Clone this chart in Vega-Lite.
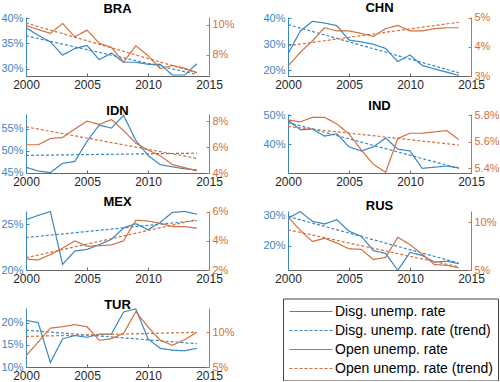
{
"$schema":"https://vega.github.io/schema/vega-lite/v6.json",
"padding":{"left":0,"top":2,"right":0,"bottom":0},
"datasets":{"d":[
{"c":"BRA","yr":2000,"s":"D","v":38.1},{"c":"BRA","yr":2001,"s":"D","v":36.6},{"c":"BRA","yr":2002,"s":"D","v":35.3},{"c":"BRA","yr":2003,"s":"D","v":32.7},{"c":"BRA","yr":2004,"s":"D","v":34.0},{"c":"BRA","yr":2005,"s":"D","v":34.6},{"c":"BRA","yr":2006,"s":"D","v":31.8},{"c":"BRA","yr":2007,"s":"D","v":33.1},{"c":"BRA","yr":2008,"s":"D","v":31.3},{"c":"BRA","yr":2009,"s":"D","v":31.3},{"c":"BRA","yr":2010,"s":"D","v":30.9},{"c":"BRA","yr":2011,"s":"D","v":30.9},{"c":"BRA","yr":2012,"s":"D","v":28.8},{"c":"BRA","yr":2013,"s":"D","v":28.8},{"c":"BRA","yr":2014,"s":"D","v":31.0},
{"c":"BRA","yr":2000,"s":"O","v":9.93},{"c":"BRA","yr":2001,"s":"O","v":9.67},{"c":"BRA","yr":2002,"s":"O","v":9.41},{"c":"BRA","yr":2003,"s":"O","v":10.07},{"c":"BRA","yr":2004,"s":"O","v":9.17},{"c":"BRA","yr":2005,"s":"O","v":9.63},{"c":"BRA","yr":2006,"s":"O","v":8.76},{"c":"BRA","yr":2007,"s":"O","v":8.48},{"c":"BRA","yr":2008,"s":"O","v":7.5},{"c":"BRA","yr":2009,"s":"O","v":8.59},{"c":"BRA","yr":2010,"s":"O","v":7.93},{"c":"BRA","yr":2011,"s":"O","v":7.07},{"c":"BRA","yr":2012,"s":"O","v":7.28},{"c":"BRA","yr":2013,"s":"O","v":7.1},{"c":"BRA","yr":2014,"s":"O","v":6.8},
{"c":"BRA","yr":2000,"s":"DT","v":36.5},{"c":"BRA","yr":2014,"s":"DT","v":28.9},{"c":"BRA","yr":2000,"s":"OT","v":10.1},{"c":"BRA","yr":2014,"s":"OT","v":6.8},
{"c":"CHN","yr":2000,"s":"D","v":26.3},{"c":"CHN","yr":2001,"s":"D","v":35.0},{"c":"CHN","yr":2002,"s":"D","v":38.75},{"c":"CHN","yr":2003,"s":"D","v":38.1},{"c":"CHN","yr":2004,"s":"D","v":37.1},{"c":"CHN","yr":2005,"s":"D","v":31.6},{"c":"CHN","yr":2006,"s":"D","v":30.9},{"c":"CHN","yr":2007,"s":"D","v":30.0},{"c":"CHN","yr":2008,"s":"D","v":28.4},{"c":"CHN","yr":2009,"s":"D","v":23.4},{"c":"CHN","yr":2010,"s":"D","v":25.9},{"c":"CHN","yr":2011,"s":"D","v":21.9},{"c":"CHN","yr":2012,"s":"D","v":20.6},{"c":"CHN","yr":2013,"s":"D","v":19.4},{"c":"CHN","yr":2014,"s":"D","v":18.1},
{"c":"CHN","yr":2000,"s":"O","v":3.34},{"c":"CHN","yr":2001,"s":"O","v":3.81},{"c":"CHN","yr":2002,"s":"O","v":4.21},{"c":"CHN","yr":2003,"s":"O","v":4.66},{"c":"CHN","yr":2004,"s":"O","v":4.55},{"c":"CHN","yr":2005,"s":"O","v":4.55},{"c":"CHN","yr":2006,"s":"O","v":4.47},{"c":"CHN","yr":2007,"s":"O","v":4.36},{"c":"CHN","yr":2008,"s":"O","v":4.63},{"c":"CHN","yr":2009,"s":"O","v":4.74},{"c":"CHN","yr":2010,"s":"O","v":4.55},{"c":"CHN","yr":2011,"s":"O","v":4.55},{"c":"CHN","yr":2012,"s":"O","v":4.63},{"c":"CHN","yr":2013,"s":"O","v":4.66},{"c":"CHN","yr":2014,"s":"O","v":4.66},
{"c":"CHN","yr":2000,"s":"DT","v":37.5},{"c":"CHN","yr":2014,"s":"DT","v":19.1},{"c":"CHN","yr":2000,"s":"OT","v":4.04},{"c":"CHN","yr":2014,"s":"OT","v":4.85},
{"c":"IDN","yr":2000,"s":"D","v":46.2},{"c":"IDN","yr":2001,"s":"D","v":45.35},{"c":"IDN","yr":2002,"s":"D","v":45.0},{"c":"IDN","yr":2003,"s":"D","v":47.1},{"c":"IDN","yr":2004,"s":"D","v":47.5},{"c":"IDN","yr":2005,"s":"D","v":52.1},{"c":"IDN","yr":2006,"s":"D","v":55.8},{"c":"IDN","yr":2007,"s":"D","v":55.1},{"c":"IDN","yr":2008,"s":"D","v":58.0},{"c":"IDN","yr":2009,"s":"D","v":52.3},{"c":"IDN","yr":2010,"s":"D","v":48.9},{"c":"IDN","yr":2011,"s":"D","v":46.8},{"c":"IDN","yr":2012,"s":"D","v":46.3},{"c":"IDN","yr":2013,"s":"D","v":45.85},{"c":"IDN","yr":2014,"s":"D","v":45.6},
{"c":"IDN","yr":2000,"s":"O","v":6.18},{"c":"IDN","yr":2001,"s":"O","v":6.18},{"c":"IDN","yr":2002,"s":"O","v":6.66},{"c":"IDN","yr":2003,"s":"O","v":6.74},{"c":"IDN","yr":2004,"s":"O","v":7.39},{"c":"IDN","yr":2005,"s":"O","v":8.0},{"c":"IDN","yr":2006,"s":"O","v":7.75},{"c":"IDN","yr":2007,"s":"O","v":8.12},{"c":"IDN","yr":2008,"s":"O","v":7.27},{"c":"IDN","yr":2009,"s":"O","v":6.3},{"c":"IDN","yr":2010,"s":"O","v":5.77},{"c":"IDN","yr":2011,"s":"O","v":5.33},{"c":"IDN","yr":2012,"s":"O","v":4.65},{"c":"IDN","yr":2013,"s":"O","v":4.41},{"c":"IDN","yr":2014,"s":"O","v":4.17},
{"c":"IDN","yr":2000,"s":"DT","v":48.9},{"c":"IDN","yr":2014,"s":"DT","v":49.4},{"c":"IDN","yr":2000,"s":"OT","v":7.56},{"c":"IDN","yr":2014,"s":"OT","v":5.13},
{"c":"IND","yr":2000,"s":"D","v":48.3},{"c":"IND","yr":2001,"s":"D","v":45.0},{"c":"IND","yr":2002,"s":"D","v":45.2},{"c":"IND","yr":2003,"s":"D","v":42.8},{"c":"IND","yr":2004,"s":"D","v":43.6},{"c":"IND","yr":2005,"s":"D","v":39.1},{"c":"IND","yr":2006,"s":"D","v":37.7},{"c":"IND","yr":2007,"s":"D","v":39.1},{"c":"IND","yr":2008,"s":"D","v":42.1},{"c":"IND","yr":2009,"s":"D","v":38.3},{"c":"IND","yr":2010,"s":"D","v":37.7},{"c":"IND","yr":2011,"s":"D","v":31.7},{"c":"IND","yr":2012,"s":"D","v":32.1},{"c":"IND","yr":2013,"s":"D","v":32.5},{"c":"IND","yr":2014,"s":"D","v":31.9},
{"c":"IND","yr":2000,"s":"O","v":5.765},{"c":"IND","yr":2001,"s":"O","v":5.75},{"c":"IND","yr":2002,"s":"O","v":5.785},{"c":"IND","yr":2003,"s":"O","v":5.785},{"c":"IND","yr":2004,"s":"O","v":5.735},{"c":"IND","yr":2005,"s":"O","v":5.66},{"c":"IND","yr":2006,"s":"O","v":5.54},{"c":"IND","yr":2007,"s":"O","v":5.43},{"c":"IND","yr":2008,"s":"O","v":5.37},{"c":"IND","yr":2009,"s":"O","v":5.625},{"c":"IND","yr":2010,"s":"O","v":5.665},{"c":"IND","yr":2011,"s":"O","v":5.665},{"c":"IND","yr":2012,"s":"O","v":5.675},{"c":"IND","yr":2013,"s":"O","v":5.685},{"c":"IND","yr":2014,"s":"O","v":5.617},
{"c":"IND","yr":2000,"s":"DT","v":47.5},{"c":"IND","yr":2014,"s":"DT","v":31.7},{"c":"IND","yr":2000,"s":"OT","v":5.716},{"c":"IND","yr":2014,"s":"OT","v":5.576},
{"c":"MEX","yr":2000,"s":"D","v":25.5},{"c":"MEX","yr":2001,"s":"D","v":25.97},{"c":"MEX","yr":2002,"s":"D","v":26.4},{"c":"MEX","yr":2003,"s":"D","v":20.6},{"c":"MEX","yr":2004,"s":"D","v":22.07},{"c":"MEX","yr":2005,"s":"D","v":22.25},{"c":"MEX","yr":2006,"s":"D","v":22.77},{"c":"MEX","yr":2007,"s":"D","v":23.35},{"c":"MEX","yr":2008,"s":"D","v":24.6},{"c":"MEX","yr":2009,"s":"D","v":25.07},{"c":"MEX","yr":2010,"s":"D","v":24.4},{"c":"MEX","yr":2011,"s":"D","v":25.2},{"c":"MEX","yr":2012,"s":"D","v":26.3},{"c":"MEX","yr":2013,"s":"D","v":26.4},{"c":"MEX","yr":2014,"s":"D","v":26.1},
{"c":"MEX","yr":2000,"s":"O","v":2.75},{"c":"MEX","yr":2001,"s":"O","v":2.69},{"c":"MEX","yr":2002,"s":"O","v":3.06},{"c":"MEX","yr":2003,"s":"O","v":3.5},{"c":"MEX","yr":2004,"s":"O","v":4.0},{"c":"MEX","yr":2005,"s":"O","v":3.63},{"c":"MEX","yr":2006,"s":"O","v":3.67},{"c":"MEX","yr":2007,"s":"O","v":3.72},{"c":"MEX","yr":2008,"s":"O","v":4.0},{"c":"MEX","yr":2009,"s":"O","v":5.42},{"c":"MEX","yr":2010,"s":"O","v":5.36},{"c":"MEX","yr":2011,"s":"O","v":5.2},{"c":"MEX","yr":2012,"s":"O","v":4.98},{"c":"MEX","yr":2013,"s":"O","v":4.98},{"c":"MEX","yr":2014,"s":"O","v":4.87},
{"c":"MEX","yr":2000,"s":"DT","v":23.55},{"c":"MEX","yr":2014,"s":"DT","v":25.4},{"c":"MEX","yr":2000,"s":"OT","v":2.84},{"c":"MEX","yr":2014,"s":"OT","v":5.46},
{"c":"RUS","yr":2000,"s":"D","v":29.1},{"c":"RUS","yr":2001,"s":"D","v":31.3},{"c":"RUS","yr":2002,"s":"D","v":28.1},{"c":"RUS","yr":2003,"s":"D","v":27.2},{"c":"RUS","yr":2004,"s":"D","v":28.6},{"c":"RUS","yr":2005,"s":"D","v":24.8},{"c":"RUS","yr":2006,"s":"D","v":23.2},{"c":"RUS","yr":2007,"s":"D","v":18.4},{"c":"RUS","yr":2008,"s":"D","v":17.5},{"c":"RUS","yr":2009,"s":"D","v":11.9},{"c":"RUS","yr":2010,"s":"D","v":17.8},{"c":"RUS","yr":2011,"s":"D","v":16.8},{"c":"RUS","yr":2012,"s":"D","v":14.6},{"c":"RUS","yr":2013,"s":"D","v":14.9},{"c":"RUS","yr":2014,"s":"D","v":14.1},
{"c":"RUS","yr":2000,"s":"O","v":10.57},{"c":"RUS","yr":2001,"s":"O","v":9.17},{"c":"RUS","yr":2002,"s":"O","v":8.0},{"c":"RUS","yr":2003,"s":"O","v":8.33},{"c":"RUS","yr":2004,"s":"O","v":7.83},{"c":"RUS","yr":2005,"s":"O","v":7.23},{"c":"RUS","yr":2006,"s":"O","v":7.17},{"c":"RUS","yr":2007,"s":"O","v":6.1},{"c":"RUS","yr":2008,"s":"O","v":6.33},{"c":"RUS","yr":2009,"s":"O","v":8.43},{"c":"RUS","yr":2010,"s":"O","v":7.67},{"c":"RUS","yr":2011,"s":"O","v":6.67},{"c":"RUS","yr":2012,"s":"O","v":5.57},{"c":"RUS","yr":2013,"s":"O","v":5.5},{"c":"RUS","yr":2014,"s":"O","v":5.23},
{"c":"RUS","yr":2000,"s":"DT","v":29.7},{"c":"RUS","yr":2014,"s":"DT","v":14.3},{"c":"RUS","yr":2000,"s":"OT","v":9.23},{"c":"RUS","yr":2014,"s":"OT","v":5.33},
{"c":"TUR","yr":2000,"s":"D","v":20.5},{"c":"TUR","yr":2001,"s":"D","v":20.0},{"c":"TUR","yr":2002,"s":"D","v":11.0},{"c":"TUR","yr":2003,"s":"D","v":16.35},{"c":"TUR","yr":2004,"s":"D","v":17.1},{"c":"TUR","yr":2005,"s":"D","v":16.7},{"c":"TUR","yr":2006,"s":"D","v":17.4},{"c":"TUR","yr":2007,"s":"D","v":17.4},{"c":"TUR","yr":2008,"s":"D","v":22.4},{"c":"TUR","yr":2009,"s":"D","v":23.1},{"c":"TUR","yr":2010,"s":"D","v":16.35},{"c":"TUR","yr":2011,"s":"D","v":14.2},{"c":"TUR","yr":2012,"s":"D","v":13.8},{"c":"TUR","yr":2013,"s":"D","v":13.65},{"c":"TUR","yr":2014,"s":"D","v":14.2},
{"c":"TUR","yr":2000,"s":"O","v":6.6},{"c":"TUR","yr":2001,"s":"O","v":8.6},{"c":"TUR","yr":2002,"s":"O","v":10.6},{"c":"TUR","yr":2003,"s":"O","v":10.8},{"c":"TUR","yr":2004,"s":"O","v":11.1},{"c":"TUR","yr":2005,"s":"O","v":10.8},{"c":"TUR","yr":2006,"s":"O","v":8.84},{"c":"TUR","yr":2007,"s":"O","v":9.07},{"c":"TUR","yr":2008,"s":"O","v":9.87},{"c":"TUR","yr":2009,"s":"O","v":12.95},{"c":"TUR","yr":2010,"s":"O","v":10.8},{"c":"TUR","yr":2011,"s":"O","v":8.84},{"c":"TUR","yr":2012,"s":"O","v":8.14},{"c":"TUR","yr":2013,"s":"O","v":8.93},{"c":"TUR","yr":2014,"s":"O","v":10.0},
{"c":"TUR","yr":2000,"s":"DT","v":18.3},{"c":"TUR","yr":2014,"s":"DT","v":15.25},{"c":"TUR","yr":2000,"s":"OT","v":9.4},{"c":"TUR","yr":2014,"s":"OT","v":10.0}
]},
"data":{"name":"d"},
"columns":2,
"bounds":"flush",
"spacing":{"row":38,"column":79},
"concat":[
{"title":"BRA","width":183,"height":59,"transform":[{"filter":"datum.c=='BRA'"}],"resolve":{"scale":{"y":"independent"}},"layer":[
{"transform":[{"filter":"indexof(datum.s,'D')==0"}],"mark":{"type":"line","clip":true},"encoding":{"x":{"field":"yr","type":"quantitative","scale":{"domain":[2000,2015],"nice":false,"zero":false},"axis":{"values":[2000,2005,2010,2015],"format":"d"}},"y":{"field":"v","type":"quantitative","scale":{"domain":[28.6,40.2],"nice":false,"zero":false},"axis":{"orient":"left","values":[30,35,40],"labelExpr":"datum.value+'%'","domainColor":"#3a87c0","labelColor":"#3a87c0","tickColor":"#3a87c0"}},"color":{"field":"s","type":"nominal","scale":{"domain":["D","DT","O","OT"],"range":["#3a87c0","#3a87c0","#d2703c","#d2703c"]},"legend":{"labelExpr":"datum.label=='D'?'Disg. unemp. rate':datum.label=='DT'?'Disg. unemp. rate (trend)':datum.label=='O'?'Open unemp. rate':'Open unemp. rate (trend)'"}},"strokeDash":{"field":"s","type":"nominal","scale":{"domain":["D","DT","O","OT"],"range":[[1,0],[3,2],[1,0],[3,2]]},"legend":{"labelExpr":"datum.label=='D'?'Disg. unemp. rate':datum.label=='DT'?'Disg. unemp. rate (trend)':datum.label=='O'?'Open unemp. rate':'Open unemp. rate (trend)'"}}}},
{"transform":[{"filter":"indexof(datum.s,'O')==0"}],"mark":{"type":"line","clip":true},"encoding":{"x":{"field":"yr","type":"quantitative","scale":{"domain":[2000,2015],"nice":false,"zero":false}},"y":{"field":"v","type":"quantitative","scale":{"domain":[6.58,10.5],"nice":false,"zero":false},"axis":{"orient":"right","values":[8,10],"labelExpr":"datum.value+'%'","domainColor":"#d2703c","labelColor":"#d2703c","tickColor":"#d2703c"}},"color":{"field":"s","type":"nominal"},"strokeDash":{"field":"s","type":"nominal"}}}]},
{"title":"CHN","width":183,"height":59,"transform":[{"filter":"datum.c=='CHN'"}],"resolve":{"scale":{"y":"independent"}},"layer":[
{"transform":[{"filter":"indexof(datum.s,'D')==0"}],"mark":{"type":"line","clip":true},"encoding":{"x":{"field":"yr","type":"quantitative","scale":{"domain":[2000,2015],"nice":false,"zero":false},"axis":{"values":[2000,2005,2010,2015],"format":"d"}},"y":{"field":"v","type":"quantitative","scale":{"domain":[17.9,40.4],"nice":false,"zero":false},"axis":{"orient":"left","values":[20,30,40],"labelExpr":"datum.value+'%'","domainColor":"#3a87c0","labelColor":"#3a87c0","tickColor":"#3a87c0"}},"color":{"field":"s","type":"nominal"},"strokeDash":{"field":"s","type":"nominal"}}},
{"transform":[{"filter":"indexof(datum.s,'O')==0"}],"mark":{"type":"line","clip":true},"encoding":{"x":{"field":"yr","type":"quantitative","scale":{"domain":[2000,2015],"nice":false,"zero":false}},"y":{"field":"v","type":"quantitative","scale":{"domain":[3,5.03],"nice":false,"zero":false},"axis":{"orient":"right","values":[3,4,5],"labelExpr":"datum.value+'%'","domainColor":"#d2703c","labelColor":"#d2703c","tickColor":"#d2703c"}},"color":{"field":"s","type":"nominal"},"strokeDash":{"field":"s","type":"nominal"}}}]},
{"title":"IDN","width":183,"height":59,"transform":[{"filter":"datum.c=='IDN'"}],"resolve":{"scale":{"y":"independent"}},"layer":[
{"transform":[{"filter":"indexof(datum.s,'D')==0"}],"mark":{"type":"line","clip":true},"encoding":{"x":{"field":"yr","type":"quantitative","scale":{"domain":[2000,2015],"nice":false,"zero":false},"axis":{"values":[2000,2005,2010,2015],"format":"d"}},"y":{"field":"v","type":"quantitative","scale":{"domain":[44.9,58.3],"nice":false,"zero":false},"axis":{"orient":"left","values":[45,50,55],"labelExpr":"datum.value+'%'","domainColor":"#3a87c0","labelColor":"#3a87c0","tickColor":"#3a87c0"}},"color":{"field":"s","type":"nominal"},"strokeDash":{"field":"s","type":"nominal"}}},
{"transform":[{"filter":"indexof(datum.s,'O')==0"}],"mark":{"type":"line","clip":true},"encoding":{"x":{"field":"yr","type":"quantitative","scale":{"domain":[2000,2015],"nice":false,"zero":false}},"y":{"field":"v","type":"quantitative","scale":{"domain":[4.0,8.55],"nice":false,"zero":false},"axis":{"orient":"right","values":[4,6,8],"labelExpr":"datum.value+'%'","domainColor":"#d2703c","labelColor":"#d2703c","tickColor":"#d2703c"}},"color":{"field":"s","type":"nominal"},"strokeDash":{"field":"s","type":"nominal"}}}]},
{"title":"IND","width":183,"height":59,"transform":[{"filter":"datum.c=='IND'"}],"resolve":{"scale":{"y":"independent"}},"layer":[
{"transform":[{"filter":"indexof(datum.s,'D')==0"}],"mark":{"type":"line","clip":true},"encoding":{"x":{"field":"yr","type":"quantitative","scale":{"domain":[2000,2015],"nice":false,"zero":false},"axis":{"values":[2000,2005,2010,2015],"format":"d"}},"y":{"field":"v","type":"quantitative","scale":{"domain":[30.1,50.4],"nice":false,"zero":false},"axis":{"orient":"left","values":[30,40,50],"labelExpr":"datum.value+'%'","domainColor":"#3a87c0","labelColor":"#3a87c0","tickColor":"#3a87c0"}},"color":{"field":"s","type":"nominal"},"strokeDash":{"field":"s","type":"nominal"}}},
{"transform":[{"filter":"indexof(datum.s,'O')==0"}],"mark":{"type":"line","clip":true},"encoding":{"x":{"field":"yr","type":"quantitative","scale":{"domain":[2000,2015],"nice":false,"zero":false}},"y":{"field":"v","type":"quantitative","scale":{"domain":[5.365,5.81],"nice":false,"zero":false},"axis":{"orient":"right","values":[5.4,5.6,5.8],"labelExpr":"format(datum.value,'.1f')+'%'","domainColor":"#d2703c","labelColor":"#d2703c","tickColor":"#d2703c"}},"color":{"field":"s","type":"nominal"},"strokeDash":{"field":"s","type":"nominal"}}}]},
{"title":"MEX","width":183,"height":59,"transform":[{"filter":"datum.c=='MEX'"}],"resolve":{"scale":{"y":"independent"}},"layer":[
{"transform":[{"filter":"indexof(datum.s,'D')==0"}],"mark":{"type":"line","clip":true},"encoding":{"x":{"field":"yr","type":"quantitative","scale":{"domain":[2000,2015],"nice":false,"zero":false},"axis":{"values":[2000,2005,2010,2015],"format":"d"}},"y":{"field":"v","type":"quantitative","scale":{"domain":[20,26.45],"nice":false,"zero":false},"axis":{"orient":"left","values":[20,25],"labelExpr":"datum.value+'%'","domainColor":"#3a87c0","labelColor":"#3a87c0","tickColor":"#3a87c0"}},"color":{"field":"s","type":"nominal"},"strokeDash":{"field":"s","type":"nominal"}}},
{"transform":[{"filter":"indexof(datum.s,'O')==0"}],"mark":{"type":"line","clip":true},"encoding":{"x":{"field":"yr","type":"quantitative","scale":{"domain":[2000,2015],"nice":false,"zero":false}},"y":{"field":"v","type":"quantitative","scale":{"domain":[2,6.05],"nice":false,"zero":false},"axis":{"orient":"right","values":[2,4,6],"labelExpr":"datum.value+'%'","domainColor":"#d2703c","labelColor":"#d2703c","tickColor":"#d2703c"}},"color":{"field":"s","type":"nominal"},"strokeDash":{"field":"s","type":"nominal"}}}]},
{"title":"RUS","width":183,"height":59,"transform":[{"filter":"datum.c=='RUS'"}],"resolve":{"scale":{"y":"independent"}},"layer":[
{"transform":[{"filter":"indexof(datum.s,'D')==0"}],"mark":{"type":"line","clip":true},"encoding":{"x":{"field":"yr","type":"quantitative","scale":{"domain":[2000,2015],"nice":false,"zero":false},"axis":{"values":[2000,2005,2010,2015],"format":"d"}},"y":{"field":"v","type":"quantitative","scale":{"domain":[12,31.5],"nice":false,"zero":false},"axis":{"orient":"left","values":[20,30],"labelExpr":"datum.value+'%'","domainColor":"#3a87c0","labelColor":"#3a87c0","tickColor":"#3a87c0"}},"color":{"field":"s","type":"nominal"},"strokeDash":{"field":"s","type":"nominal"}}},
{"transform":[{"filter":"indexof(datum.s,'O')==0"}],"mark":{"type":"line","clip":true},"encoding":{"x":{"field":"yr","type":"quantitative","scale":{"domain":[2000,2015],"nice":false,"zero":false}},"y":{"field":"v","type":"quantitative","scale":{"domain":[5,11.2],"nice":false,"zero":false},"axis":{"orient":"right","values":[5,10],"labelExpr":"datum.value+'%'","domainColor":"#d2703c","labelColor":"#d2703c","tickColor":"#d2703c"}},"color":{"field":"s","type":"nominal"},"strokeDash":{"field":"s","type":"nominal"}}}]},
{"title":"TUR","width":183,"height":59,"transform":[{"filter":"datum.c=='TUR'"}],"resolve":{"scale":{"y":"independent"}},"layer":[
{"transform":[{"filter":"indexof(datum.s,'D')==0"}],"mark":{"type":"line","clip":true},"encoding":{"x":{"field":"yr","type":"quantitative","scale":{"domain":[2000,2015],"nice":false,"zero":false},"axis":{"values":[2000,2005,2010,2015],"format":"d"}},"y":{"field":"v","type":"quantitative","scale":{"domain":[10,23.3],"nice":false,"zero":false},"axis":{"orient":"left","values":[10,15,20],"labelExpr":"datum.value+'%'","domainColor":"#3a87c0","labelColor":"#3a87c0","tickColor":"#3a87c0"}},"color":{"field":"s","type":"nominal"},"strokeDash":{"field":"s","type":"nominal"}}},
{"transform":[{"filter":"indexof(datum.s,'O')==0"}],"mark":{"type":"line","clip":true},"encoding":{"x":{"field":"yr","type":"quantitative","scale":{"domain":[2000,2015],"nice":false,"zero":false}},"y":{"field":"v","type":"quantitative","scale":{"domain":[5,13.5],"nice":false,"zero":false},"axis":{"orient":"right","values":[5,10],"labelExpr":"datum.value+'%'","domainColor":"#d2703c","labelColor":"#d2703c","tickColor":"#d2703c"}},"color":{"field":"s","type":"nominal"},"strokeDash":{"field":"s","type":"nominal"}}}]}
],
"resolve":{"scale":{"x":"independent","y":"independent","color":"shared","strokeDash":"shared"},"legend":{"color":"shared","strokeDash":"shared"}},
"config":{
"font":"Liberation Sans",
"view":{"stroke":null},
"title":{"fontSize":13,"fontWeight":"bold","color":"#000","offset":-3.5},
"axis":{"title":null,"grid":false,"labelFontSize":12,"tickSize":-3,"labelPadding":6,"domainWidth":1},
"axisX":{"labelColor":"#262626","domainColor":"#666","tickColor":"#666","labelFlush":false},
"axisY":{"labelFlush":false,"labelFontSize":11},
"line":{"strokeWidth":1.2},
"legend":{"orient":"none","legendX":257,"legendY":281.5,"title":null,"symbolType":"M-3.07,0H3.07","symbolSize":196,"symbolStrokeWidth":1.5,"symbolOffset":15,"labelFontSize":14,"labelColor":"#000","labelOffset":16,"rowPadding":4,"padding":5,"strokeColor":"#444","fillColor":"white"}
}
}
